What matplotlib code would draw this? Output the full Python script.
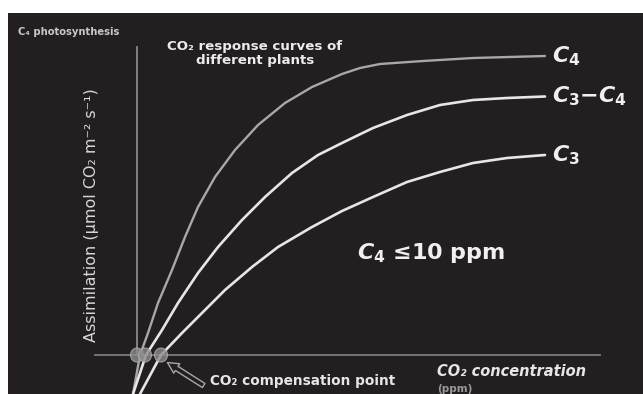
import matplotlib
matplotlib.use("Agg")
import matplotlib.pyplot as plt
from matplotlib.patches import Rectangle, Ellipse

plt.rcParams["mathtext.fontset"] = "custom"
plt.rcParams["mathtext.it"] = "DejaVu Sans:italic:bold"
plt.rcParams["mathtext.rm"] = "DejaVu Sans:bold"

# CO2 response curves (x: CO2 ppm, y: assimilation)
c4_x = [-8, 6, 22, 42, 70, 96, 122, 156, 196, 242, 296, 350, 410, 446, 486, 572, 672, 816]
c4_y = [-3.9, 0, 2.2, 5.2, 8.5, 11.8, 14.8, 17.8, 20.5, 23.0, 25.2, 26.8, 28.1, 28.7, 29.1, 29.4, 29.7, 29.9]

c3c4_x = [-8, 18, 50, 82, 122, 162, 210, 256, 310, 362, 410, 472, 540, 606, 672, 740, 816]
c3c4_y = [-3.9, 0, 2.5, 5.2, 8.2, 10.8, 13.5, 15.8, 18.2, 20.0, 21.2, 22.7, 24.0, 25.0, 25.5, 25.7, 25.85]

c3_x = [6, 48, 90, 130, 176, 230, 282, 350, 410, 472, 540, 606, 672, 740, 816]
c3_y = [-3.9, 0, 2.2, 4.2, 6.5, 8.8, 10.8, 12.8, 14.4, 15.8, 17.3, 18.3, 19.2, 19.7, 20.0]

comp_points = [0, 16, 48]          # CO2 compensation points
curve_labels = [r"$C_4$", r"$C_3{-}C_4$", r"$C_3$"]

BG = "#231f20"
W, H = 643, 394

fig = plt.figure(figsize=(W / 100, H / 100), dpi=100)
fig.patch.set_facecolor("white")

# layout axes in pixel units (y down) for background + text
lay = fig.add_axes([0, 0, 1, 1])
lay.set_xlim(0, W)
lay.set_ylim(H, 0)
lay.axis("off")
lay.add_patch(Rectangle((8, 13), W - 8, H - 13, facecolor=BG, edgecolor="none", zorder=0))

# data axes: 1 px = 2 ppm, 1 px = 0.1 units; origin at px (137, 355)
ax = fig.add_axes([0, 0, 1, 1])
ax.patch.set_alpha(0)
ax.axis("off")
ax.set_xlim((0 - 137) * 2, (W - 137) * 2)
ax.set_ylim((355 - H) * 0.1, 355 * 0.1)

# axes lines
ax.plot([0, 0], [0, 30.8], color="#8a8a8a", lw=1.3, zorder=2)
ax.plot([-84, 926], [0, 0], color="#7a7a7a", lw=1.3, zorder=2)

style = dict(zorder=3, solid_capstyle="round", solid_joinstyle="round")
ax.plot(c4_x, c4_y, color="#a8a8a8", lw=1.7, **style)
ax.plot(c3c4_x, c3c4_y, color="#e6e6e6", lw=1.9, **style)
ax.plot(c3_x, c3_y, color="#e6e6e6", lw=1.9, **style)

for cp in comp_points:
    ax.add_patch(Ellipse((cp, 0), 26, 1.4, facecolor="#8c8c8c", edgecolor="#b0b0b0",
                         lw=0.8, alpha=0.8, zorder=4))

# curve end labels
ends_y = [c4_y[-1], c3c4_y[-1], c3_y[-1]]
for lab, yv in zip(curve_labels, ends_y):
    ax.text(c4_x[-1] + 14, yv, lab, ha="left", va="center", fontsize=16,
            weight="bold", color="#f0f0f0", zorder=5)

# texts
lay.text(18, 32, "C₄ photosynthesis", fontsize=7.2, weight="bold", color="#c8c8c8",
         ha="left", va="center")
lay.text(255, 53, "CO₂ response curves of\ndifferent plants", fontsize=9.6,
         weight="bold", color="#ececec", ha="center", va="center", linespacing=1.1)
lay.text(92, 215, "Assimilation (µmol CO₂ m⁻² s⁻¹)", rotation=90, fontsize=11.5,
         color="#d8d8d8", ha="center", va="center")
lay.text(357, 253, r"$C_4$" + " ≤10 ppm", fontsize=16, weight="bold", color="#f0f0f0",
         ha="left", va="center")
lay.text(210, 381, "CO₂ compensation point", fontsize=9.8, weight="bold", color="#e6e6e6",
         ha="left", va="center")
lay.text(437, 371, "CO₂ concentration", fontsize=10.5, weight="bold", style="italic",
         color="#e6e6e6", ha="left", va="center")
lay.text(437, 389, "(ppm)", fontsize=7.5, weight="bold", color="#9a9a9a",
         ha="left", va="center")

lay.annotate("", xy=(165, 361), xytext=(206, 387),
             arrowprops=dict(arrowstyle="simple,head_width=0.8,head_length=0.8,tail_width=0.35",
                             fc=BG, ec="#a8a8a8", lw=1.0))

fig.savefig("out.png", dpi=100, facecolor="white")
